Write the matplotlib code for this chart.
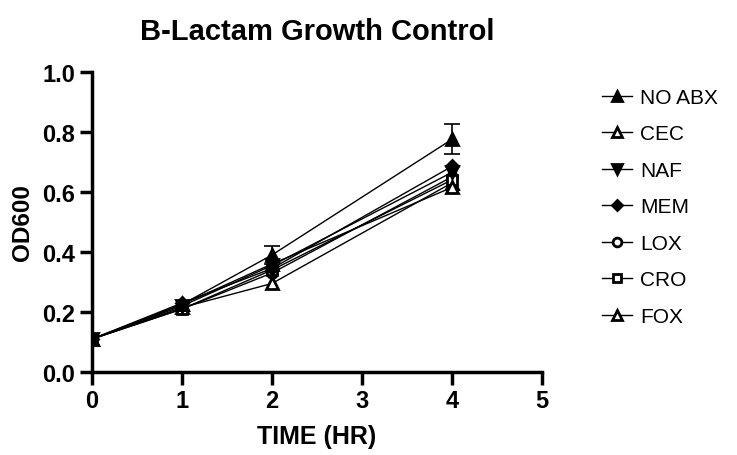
import matplotlib.pyplot as plt

plt.rcParams['font.family'] = ['Liberation Sans', 'DejaVu Sans']

# Data
time_hr = [0, 1, 2, 4]
groups = ['NO ABX', 'CEC', 'NAF', 'MEM', 'LOX', 'CRO', 'FOX']
no_abx = [0.11, 0.225, 0.39, 0.775]
no_abx_err_t = [2, 4]
no_abx_err_y = [0.39, 0.775]
no_abx_err = [0.03, 0.05]
cec = [0.11, 0.215, 0.295, 0.63]
naf = [0.11, 0.22, 0.355, 0.665]
mem = [0.11, 0.23, 0.345, 0.685]
lox = [0.11, 0.21, 0.33, 0.65]
cro = [0.11, 0.21, 0.34, 0.64]
fox = [0.11, 0.225, 0.36, 0.615]

series = [no_abx, cec, naf, mem, lox, cro, fox]
markers = ['^', '^', 'v', 'D', 'o', 's', '^']
filled = [True, False, True, True, False, False, False]
sizes = [8, 8, 8, 6, 7, 7, 8]

fig = plt.figure(figsize=(7.37, 4.56), dpi=100)
ax = fig.add_axes([0.125, 0.182, 0.61, 0.658])

# error bars for the untreated control
ax.errorbar(no_abx_err_t, no_abx_err_y, yerr=no_abx_err, fmt='none',
            ecolor='black', elinewidth=1.2, capsize=6, capthick=1.2)

for name, vals, m, f, s in zip(groups, series, markers, filled, sizes):
    face = 'black' if f else 'white'
    ax.plot(time_hr, vals, color='black', lw=1, marker=m, ms=s,
            mfc=face, mec='black', mew=2.0, label=name,
            zorder=4 if f else 3)

ax.set_xlim(0, 5)
ax.set_ylim(0, 1.0)
ax.set_xticks([0, 1, 2, 3, 4, 5])
ax.set_yticks([0.0, 0.2, 0.4, 0.6, 0.8, 1.0])
ax.set_yticklabels(['0.0', '0.2', '0.4', '0.6', '0.8', '1.0'])
for lab in ax.get_xticklabels() + ax.get_yticklabels():
    lab.set_fontweight('bold')
ax.tick_params(labelsize=17, width=2.5, length=9, direction='out', pad=3)

ax.spines['top'].set_visible(False)
ax.spines['right'].set_visible(False)
ax.spines['left'].set_linewidth(2.5)
ax.spines['bottom'].set_linewidth(2.5)

ax.set_xlabel('TIME (HR)', fontsize=18, fontweight='bold', labelpad=9)
ax.set_ylabel('OD600', fontsize=17.5, fontweight='bold', labelpad=6)
ax.set_title('B-Lactam Growth Control', fontsize=21, fontweight='bold', pad=24)

ax.legend(loc='upper left', bbox_to_anchor=(1.115, 0.975), frameon=False,
          fontsize=15, labelspacing=0.84, handlelength=1.45, handletextpad=0.4,
          borderaxespad=0, markerscale=0.9)

plt.savefig('out.png', dpi=100)
